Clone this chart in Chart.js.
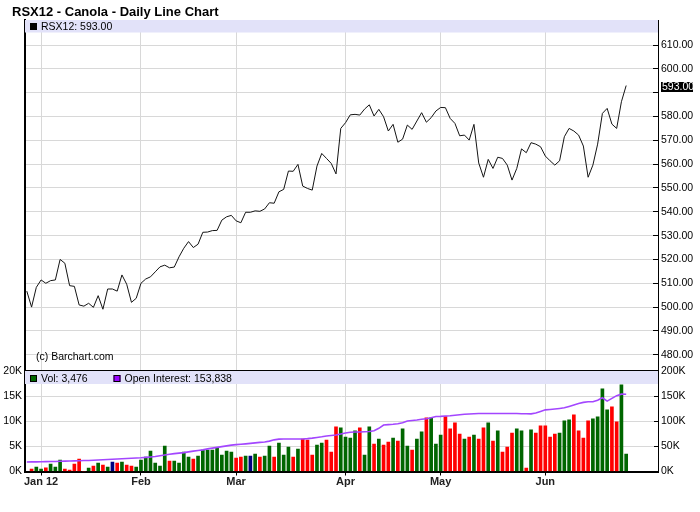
<!DOCTYPE html>
<html><head><meta charset="utf-8">
<script src="https://cdn.jsdelivr.net/npm/chart.js@4.4.1/dist/chart.umd.min.js"></script>
<style>
html,body{margin:0;padding:0;background:#fff;}
#wrap{position:relative;width:700px;height:512px;overflow:hidden;}
canvas{position:absolute;left:0;top:0;}
</style></head><body>
<div id="wrap"><canvas id="price" width="700" height="512"></canvas><canvas id="vol" width="700" height="512"></canvas></div>
<script>
// ---------- data ----------
const symbol = 'RSX12';
const chartTitle = 'RSX12 - Canola - Daily Line Chart';
const months = ['Dec 11', 'Jan 12', 'Feb', 'Mar', 'Apr', 'May', 'Jun'];
const sessionsPerMonth = [3, 21, 20, 23, 20, 22, 18];

const closes = [
  506.7, 500.0, 508.3, 511.4, 510.0, 511.1, 511.4, 520.0, 518.4, 509.0,
  508.7, 500.9, 500.4, 501.6, 499.9, 504.8, 499.1, 507.6, 507.6, 506.7,
  513.5, 509.6, 502.0, 503.7, 510.0, 511.8, 512.7, 514.8, 516.9, 517.6,
  516.5, 516.8, 521.1, 524.7, 527.5, 525.0, 526.4, 531.4, 531.5, 532.1,
  532.2, 536.5, 537.9, 538.5, 536.2, 535.4, 539.8, 539.8, 540.4, 540.2,
  541.2, 543.8, 543.6, 548.4, 549.4, 557.1, 557.0, 559.9, 550.8, 549.8,
  549.1, 559.2, 564.5, 562.4, 560.3, 555.9, 575.0, 577.4, 580.7, 580.9,
  580.6, 583.1, 584.9, 580.2, 583.0, 579.9, 573.9, 576.7, 569.2, 570.5,
  576.4, 574.6, 578.1, 581.6, 577.6, 579.5, 582.3, 583.8, 583.7, 579.2,
  577.1, 571.9, 572.2, 570.1, 576.7, 560.5, 554.5, 562.0, 558.2, 562.9,
  562.4, 559.6, 553.3, 558.2, 566.4, 564.8, 569.0, 568.4, 567.3, 563.4,
  561.4, 559.6, 561.4, 571.5, 575.0, 573.9, 572.2, 567.6, 554.5, 559.6,
  568.4, 581.3, 583.4, 576.8, 575.0, 586.2, 593.0
];

const volumes = [
  null, 470, 870, 470, 730, 1470, 870, 2270, 470, 270,
  1470, 2470, 0, 670, 1070, 1670, 1270, 870, 1870, 1670,
  1870, 1270, 1070, 870, 2270, 2870, 4070, 1670, 1070, 5070,
  2070, 2070, 1670, 3870, 2870, 2470, 3070, 4270, 4270, 4270,
  4670, 3270, 4070, 3870, 2670, 2870, 3070, 3070, 3470, 2870,
  3070, 5070, 2870, 5670, 3270, 4870, 2870, 4470, 6470, 6270,
  3270, 5270, 5670, 6270, 3870, 8870, 8670, 6870, 6670, 8070,
  8670, 3270, 8870, 5470, 6470, 5270, 5870, 6670, 6070, 8470,
  5070, 4270, 6470, 7870, 10670, 10670, 5470, 7270, 10930, 8470,
  9670, 7470, 6470, 6870, 7270, 6470, 8670, 9670, 6070, 8070,
  3870, 4870, 7670, 8470, 8070, 670, 8270, 7670, 9070, 9070,
  6870, 7470, 7670, 10070, 10270, 11270, 8070, 6670, 10070, 10470,
  10870, 16470, 12270, 12870, 9870, 17270, 3476
];

const openInterest = [
  19000, 19100, 19200, 19400, 19600, 19800, 20000, 20300, 20600, 20900,
  21200, 21500, 21800, 22000, 22400, 22900, 23400, 23900, 24400, 24900,
  25300, 25800, 26300, 26800, 27300, 28100, 29000, 30000, 31500, 33000,
  34300, 35500, 36500, 37500, 39000, 40500, 41800, 43000, 45000, 46500,
  48000, 49500, 51000, 52500, 53500, 54200, 55000, 56000, 57000, 58000,
  58700, 60500, 63000, 64500, 64700, 64700, 64600, 64700, 64800, 65500,
  66500, 67800, 69000, 70500, 71500, 72500, 74500, 76700, 78000, 78500,
  78700, 79000, 79500, 81000, 86000, 92500, 93300, 94000, 95000, 97000,
  100500, 101500, 102500, 104000, 105000, 107000, 109500, 109700, 110500, 111000,
  112000, 113000, 114000, 114500, 115000, 115300, 115500, 115500, 115300, 115500,
  115500, 115300, 115500, 115300, 115000, 114800, 114700, 116500, 119500, 122700,
  123500, 124500, 125500, 126700, 129500, 132500, 135500, 137500, 138700, 138700,
  142000, 146700, 140000, 145500, 151000, 154000, 153838
];

const priceTicks = [480, 490, 500, 510, 520, 530, 540, 550, 560, 570, 580, 590, 600, 610];
const volumeTicks = [0, 5000, 10000, 15000, 20000];
const oiTicks = [0, 50000, 100000, 150000, 200000];

// ---------- derived ----------
const monthStarts = [];
{ let idx = 0; months.forEach((m, k) => { if (idx > 0) monthStarts.push({ index: idx, label: m }); idx += sessionsPerMonth[k]; }); }
const monthLabelAt = v => { const m = monthStarts.find(s => s.index === v); return m ? m.label : ''; };

const UP = '#006600', DOWN = '#ff0000', FLAT = '#000080';
const barColors = closes.map((c, i) => i === 0 ? UP : (c > closes[i - 1] ? UP : (c < closes[i - 1] ? DOWN : FLAT)));

const fmt = n => n.toLocaleString('en-US');
const lastClose = closes[closes.length - 1];
const lastVol = volumes[volumes.length - 1];
const lastOI = openInterest[openInterest.length - 1];

// ---------- style ----------
Chart.defaults.font.family = '"Liberation Sans", Arial, Helvetica, sans-serif';
Chart.defaults.color = '#000';
const GRID = '#d8d8d8';
const BAND = '#e2e2f9';
const X_MIN = -0.38, X_MAX = 132.69;

const bandPlugin = {
  id: 'band',
  beforeDatasetsDraw(chart, args, o) {
    const { ctx, chartArea: a } = chart;
    ctx.save();
    ctx.fillStyle = BAND;
    ctx.fillRect(a.left, a.top + o.top, a.right - a.left, o.height);
    ctx.font = '10.5px "Liberation Sans", Arial, sans-serif';
    ctx.textBaseline = 'middle';
    const yMid = a.top + o.top + o.height / 2 + o.shift;
    let x = a.left + 5;
    for (const it of o.items) {
      ctx.fillStyle = it.color;
      ctx.fillRect(x, Math.round(yMid - 3.5), 7, 7);
      ctx.strokeStyle = '#000'; ctx.lineWidth = 1;
      ctx.strokeRect(x + 0.5, Math.round(yMid - 3.5) + 0.5, 6, 6);
      ctx.fillStyle = '#000';
      ctx.fillText(it.text, x + 11, yMid + 0.5);
      x += it.width;
    }
    ctx.restore();
  }
};

const annotPlugin = {
  id: 'annot',
  afterDraw(chart) {
    const { ctx, chartArea: a } = chart;
    const ys = chart.scales.y;
    ctx.save();
    ctx.fillStyle = '#000';
    ctx.textBaseline = 'alphabetic';
    ctx.font = 'bold 13px "Liberation Sans", Arial, sans-serif';
    ctx.fillText(chartTitle, 12, 15.5);
    ctx.font = '10.5px "Liberation Sans", Arial, sans-serif';
    ctx.fillText('(c) Barchart.com', a.left + 11, a.bottom - 10);
    const y = ys.getPixelForValue(lastClose) + 1.5;
    ctx.fillRect(ys.left + 3, Math.round(y - 5), 32, 10);
    ctx.fillStyle = '#fff';
    ctx.textBaseline = 'middle';
    ctx.fillText(lastClose.toFixed(2), ys.left + 4, y + 0.5);
    ctx.restore();
  }
};

const monthTicks = s => { s.ticks = monthStarts.map(m => ({ value: m.index })); };

new Chart(document.getElementById('price'), {
  type: 'line',
  data: { datasets: [{
    data: closes.map((v, i) => ({ x: i, y: v })),
    borderColor: '#141414', borderWidth: 1, pointRadius: 0, tension: 0,
    xAxisID: 'x', yAxisID: 'y'
  }] },
  options: {
    responsive: false, animation: false, events: [],
    layout: { padding: { top: 20, bottom: 142, left: 0, right: 0 } },
    plugins: {
      legend: { display: false }, tooltip: { enabled: false },
      band: { top: 0, height: 12.5, shift: 0, items: [{ color: '#000', text: symbol + ': ' + lastClose.toFixed(2), width: 100 }] }
    },
    scales: {
      x: { type: 'linear', position: 'bottom', min: X_MIN, max: X_MAX, offset: false, afterBuildTicks: monthTicks,
           afterFit: s => { s.height = 0; }, ticks: { display: false },
           grid: { color: GRID, drawTicks: false, offset: false }, border: { display: false } },
      xTop: { type: 'linear', position: 'top', min: X_MIN, max: X_MAX, afterFit: s => { s.height = 0; },
              ticks: { display: false }, grid: { display: false }, border: { display: true, color: '#000', width: 1 } },
      yL: { type: 'linear', position: 'left', afterFit: s => { s.width = 25; },
            ticks: { display: false }, grid: { display: false }, border: { display: true, color: '#000', width: 2 } },
      y: { type: 'linear', position: 'right', min: 473.6, max: 620.5,
           afterBuildTicks: s => { s.ticks = priceTicks.map(v => ({ value: v })); },
           afterFit: s => { s.width = 42; },
           ticks: { callback: v => (Math.abs(v - lastClose) < 4 ? '' : Number(v).toFixed(2)), color: '#000', font: { size: 10.5 }, padding: 8 },
           grid: { color: GRID, tickLength: -5, tickColor: '#000' },
           border: { display: true, color: '#000', width: 1 } }
    }
  },
  plugins: [bandPlugin, annotPlugin]
});

new Chart(document.getElementById('vol'), {
  data: { datasets: [
    { type: 'line', data: openInterest.map((v, i) => ({ x: i, y: v })), xAxisID: 'x', yAxisID: 'yOI',
      borderColor: '#a346ff', borderWidth: 1.6, pointRadius: 0, tension: 0, order: 0 },
    { type: 'bar', data: volumes.map((v, i) => ({ x: i, y: v })), xAxisID: 'x', yAxisID: 'yV',
      backgroundColor: barColors, barThickness: 3, order: 1 }
  ] },
  options: {
    responsive: false, animation: false, events: [],
    layout: { padding: { top: 371, bottom: 0, left: 0, right: 0 } },
    plugins: {
      legend: { display: false }, tooltip: { enabled: false },
      band: { top: 0, height: 13, shift: 1, items: [
        { color: UP, text: 'Vol: ' + fmt(lastVol), width: 83.5 },
        { color: '#9900ff', text: 'Open Interest: ' + fmt(lastOI), width: 150 }
      ] }
    },
    scales: {
      x: { type: 'linear', position: 'bottom', min: X_MIN, max: X_MAX, offset: false, afterBuildTicks: monthTicks,
           afterFit: s => { s.height = 40.5; },
           ticks: { callback: v => monthLabelAt(v), color: '#222', font: { size: 11, weight: 'bold' }, padding: 0, autoSkip: false, maxRotation: 0 },
           grid: { color: GRID, tickLength: 4, tickColor: '#000', offset: false },
           border: { display: true, color: '#000', width: 2 } },
      xTop: { type: 'linear', position: 'top', min: X_MIN, max: X_MAX, offset: false, afterFit: s => { s.height = 0; },
              ticks: { display: false }, grid: { display: false, offset: false }, border: { display: true, color: '#000', width: 2.5 } },
      yV: { type: 'linear', position: 'left', min: 0, max: 20000,
            afterBuildTicks: s => { s.ticks = volumeTicks.map(v => ({ value: v })); },
            afterFit: s => { s.width = 25; },
            ticks: { callback: v => (v / 1000) + 'K', color: '#000', font: { size: 10.5 }, padding: 7 },
            grid: { drawOnChartArea: false, tickLength: -4, tickColor: '#000' },
            border: { display: true, color: '#000', width: 2 } },
      yOI: { type: 'linear', position: 'right', min: 0, max: 200000,
             afterBuildTicks: s => { s.ticks = oiTicks.map(v => ({ value: v })); },
             afterFit: s => { s.width = 42; },
             ticks: { callback: v => (v / 1000) + 'K', color: '#000', font: { size: 10.5 }, padding: 7 },
             grid: { color: GRID, tickLength: -4, tickColor: '#000' },
             border: { display: true, color: '#000', width: 1 } }
    }
  },
  plugins: [bandPlugin]
});
</script>
</body></html>
